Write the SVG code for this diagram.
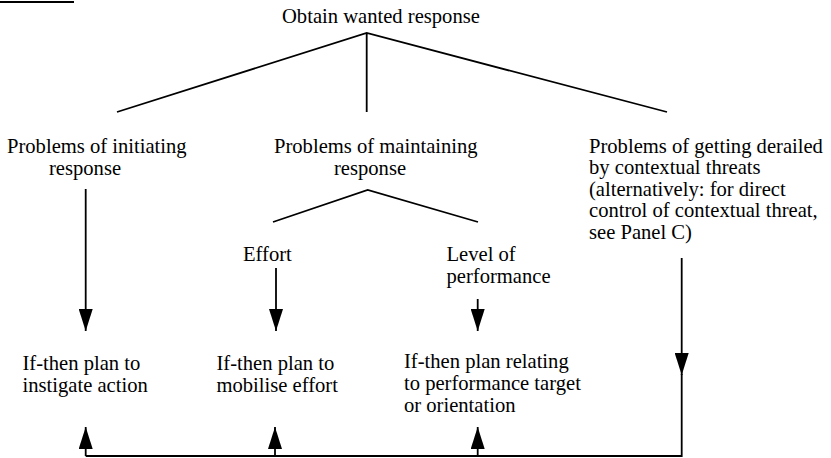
<svg xmlns="http://www.w3.org/2000/svg" width="831" height="458" viewBox="0 0 831 458">
  <style>
    text { font-family: "Liberation Serif", "Times New Roman", "DejaVu Serif", serif; font-size: 20.6px; fill: #000; }
    .ln { stroke: #000; stroke-width: 1.8; fill: none; }
  </style>
  <defs>
    <marker id="head" markerUnits="userSpaceOnUse" markerWidth="22" markerHeight="14" refX="22" refY="7" orient="auto" viewBox="0 0 22 14">
      <path d="M0,0 L22,7 L0,14 Z" fill="#000"/>
    </marker>
  </defs>
  <rect x="0" y="1" width="74" height="2" fill="#000"/>

  <g font-family="Liberation Serif, Times New Roman, serif">
    <g id="root">
      <text x="282" y="23">Obtain wanted response</text>
    </g>
    <g id="initiating">
      <text x="7" y="153">Problems of initiating</text>
      <text x="49" y="174.5">response</text>
    </g>
    <g id="maintaining">
      <text x="274" y="153">Problems of maintaining</text>
      <text x="334" y="174.5">response</text>
    </g>
    <g id="derailed">
      <text x="589" y="152.5">Problems of getting derailed</text>
      <text x="589" y="174">by contextual threats</text>
      <text x="589" y="195.8">(alternatively: for direct</text>
      <text x="589" y="217.4">control of contextual threat,</text>
      <text x="589" y="239">see Panel C)</text>
    </g>
    <g id="effort">
      <text x="243" y="261">Effort</text>
    </g>
    <g id="performance">
      <text x="446.5" y="261">Level of</text>
      <text x="446.5" y="282.5">performance</text>
    </g>
    <g id="plan-instigate">
      <text x="22.5" y="370">If-then plan to</text>
      <text x="22.5" y="391.8">instigate action</text>
    </g>
    <g id="plan-effort">
      <text x="216.5" y="370">If-then plan to</text>
      <text x="216.5" y="391.8">mobilise effort</text>
    </g>
    <g id="plan-performance">
      <text x="404" y="368">If-then plan relating</text>
      <text x="404" y="389.8">to performance target</text>
      <text x="404" y="411.5">or orientation</text>
    </g>
  </g>

  <g id="connectors">
    <!-- upper tree -->
    <path class="ln" d="M117,112 L366.7,33 L667,112 M366.7,33 L366.7,112"/>
    <!-- maintaining sub-tree -->
    <path class="ln" d="M273,222 L367.7,190 L478,222"/>
    <!-- downward arrows -->
    <line class="ln" x1="85.7" y1="189" x2="85.7" y2="331" marker-end="url(#head)"/>
    <line class="ln" x1="276" y1="268" x2="276" y2="331" marker-end="url(#head)"/>
    <line class="ln" x1="477.7" y1="299" x2="477.7" y2="331" marker-end="url(#head)"/>
    <line class="ln" x1="681.7" y1="258" x2="681.7" y2="375" marker-end="url(#head)"/>
    <!-- feedback loop -->
    <path class="ln" d="M681.7,374 L681.7,456 L85.7,456"/>
    <line class="ln" x1="85.7" y1="456" x2="85.7" y2="427" marker-end="url(#head)"/>
    <line class="ln" x1="275" y1="456" x2="275" y2="427" marker-end="url(#head)"/>
    <line class="ln" x1="477.7" y1="456" x2="477.7" y2="427" marker-end="url(#head)"/>
  </g>
</svg>
